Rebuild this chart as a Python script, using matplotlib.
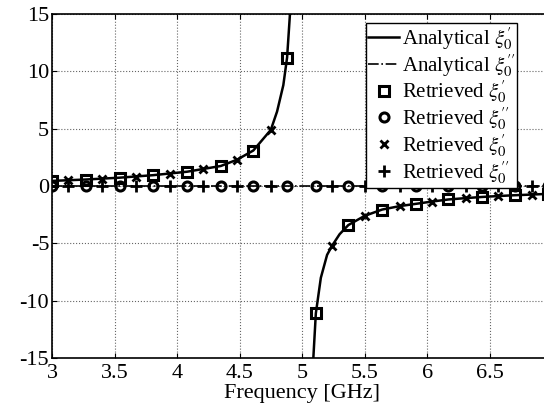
import numpy as np
import matplotlib.pyplot as plt

plt.rcParams['font.family'] = ['Liberation Serif', 'DejaVu Serif']
plt.rcParams['mathtext.fontset'] = 'stix'
plt.rcParams['axes.unicode_minus'] = False

# analytical curve, two branches around resonance
f_an_lo = [3.0, 3.27, 3.54, 3.81, 4.08, 4.35, 4.48, 4.61, 4.75, 4.80, 4.85, 4.88, 4.90, 4.92]
xi1_an_lo = [0.45, 0.57, 0.73, 0.95, 1.25, 1.75, 2.3, 3.1, 4.9, 6.5, 8.8, 11.2, 14.5, 18.0]
f_an_hi = [5.07, 5.09, 5.11, 5.15, 5.20, 5.24, 5.30, 5.37, 5.50, 5.64, 5.78, 5.91, 6.04,
           6.17, 6.31, 6.44, 6.57, 6.70, 6.84, 6.97, 7.0]
xi1_an_hi = [-19.0, -15.0, -11.1, -8.0, -6.0, -5.2, -4.2, -3.4, -2.6, -2.05, -1.75, -1.55,
             -1.35, -1.17, -1.05, -0.95, -0.87, -0.8, -0.74, -0.68, -0.67]
f_an2 = [3.0, 7.0]
xi2_an = [0.0, 0.0]

# retrieved values
f_sq = [3.0, 3.27, 3.54, 3.81, 4.08, 4.35, 4.61, 4.88, 5.11, 5.37, 5.64, 5.91, 6.17, 6.44, 6.70, 6.97]
xi1_sq = [0.45, 0.57, 0.73, 0.95, 1.25, 1.75, 3.1, 11.2, -11.1, -3.4, -2.05, -1.55, -1.17, -0.95, -0.8, -0.68]
xi2_sq = [0.0] * len(f_sq)
f_x = [3.13, 3.40, 3.67, 3.94, 4.21, 4.48, 4.75, 5.24, 5.50, 5.78, 6.04, 6.31, 6.57, 6.84]
xi1_x = [0.5, 0.65, 0.83, 1.08, 1.45, 2.3, 4.9, -5.2, -2.6, -1.75, -1.35, -1.05, -0.87, -0.74]
xi2_x = [0.0] * len(f_x)

fig = plt.figure(figsize=(5.44, 4.13), dpi=100)
ax = fig.add_axes([0.0956, 0.133, 1.015 - 0.0956, 0.966 - 0.133])

l1, = ax.plot(f_an_lo, xi1_an_lo, 'k-', lw=1.8, label=r'Analytical $\xi_0^{\prime}$')
ax.plot(f_an_hi, xi1_an_hi, 'k-', lw=1.8)
l2, = ax.plot(f_an2, xi2_an, 'k-.', lw=1.2, label=r'Analytical $\xi_0^{\prime\prime}$')
l3, = ax.plot(f_sq, xi1_sq, 's', ls='none', mec='k', mfc='none', mew=2.2, ms=6.5,
              label=r'Retrieved $\xi_0^{\prime}$')
l4, = ax.plot(f_sq, xi2_sq, 'o', ls='none', mec='k', mfc='none', mew=2.2, ms=6.5,
              label=r'Retrieved $\xi_0^{\prime\prime}$')
l5, = ax.plot(f_x, xi1_x, 'x', ls='none', color='k', mew=2, ms=6,
              label=r'Retrieved $\xi_0^{\prime}$')
l6, = ax.plot(f_x, xi2_x, '+', ls='none', color='k', mew=2, ms=8,
              label=r'Retrieved $\xi_0^{\prime\prime}$')

ax.set_xlim(3, 7)
ax.set_ylim(-15, 15)
ax.set_xticks([3, 3.5, 4, 4.5, 5, 5.5, 6, 6.5])
ax.set_xticklabels(['3', '3.5', '4', '4.5', '5', '5.5', '6', '6.5'])
ax.set_yticks([-15, -10, -5, 0, 5, 10, 15])
ax.grid(True, ls=':', color='0.4', lw=0.8)
ax.tick_params(direction='in', top=True, right=True, labelsize=16, pad=2)
ax.tick_params(axis='x', pad=4)
for s in ax.spines.values():
    s.set_linewidth(1.2)
ax.set_xlabel('Frequency [GHz]', fontsize=16, labelpad=1)

leg = ax.legend(handles=[l1, l2, l3, l4, l5, l6], loc='upper right',
                bbox_to_anchor=(0.93, 0.974), fontsize=15, frameon=True,
                fancybox=False, edgecolor='k', framealpha=1, borderpad=0.1,
                labelspacing=0.0, handlelength=1.5, handletextpad=0.1,
                borderaxespad=0)
leg.get_frame().set_linewidth(1.0)

fig.savefig('out.png', dpi=100)
